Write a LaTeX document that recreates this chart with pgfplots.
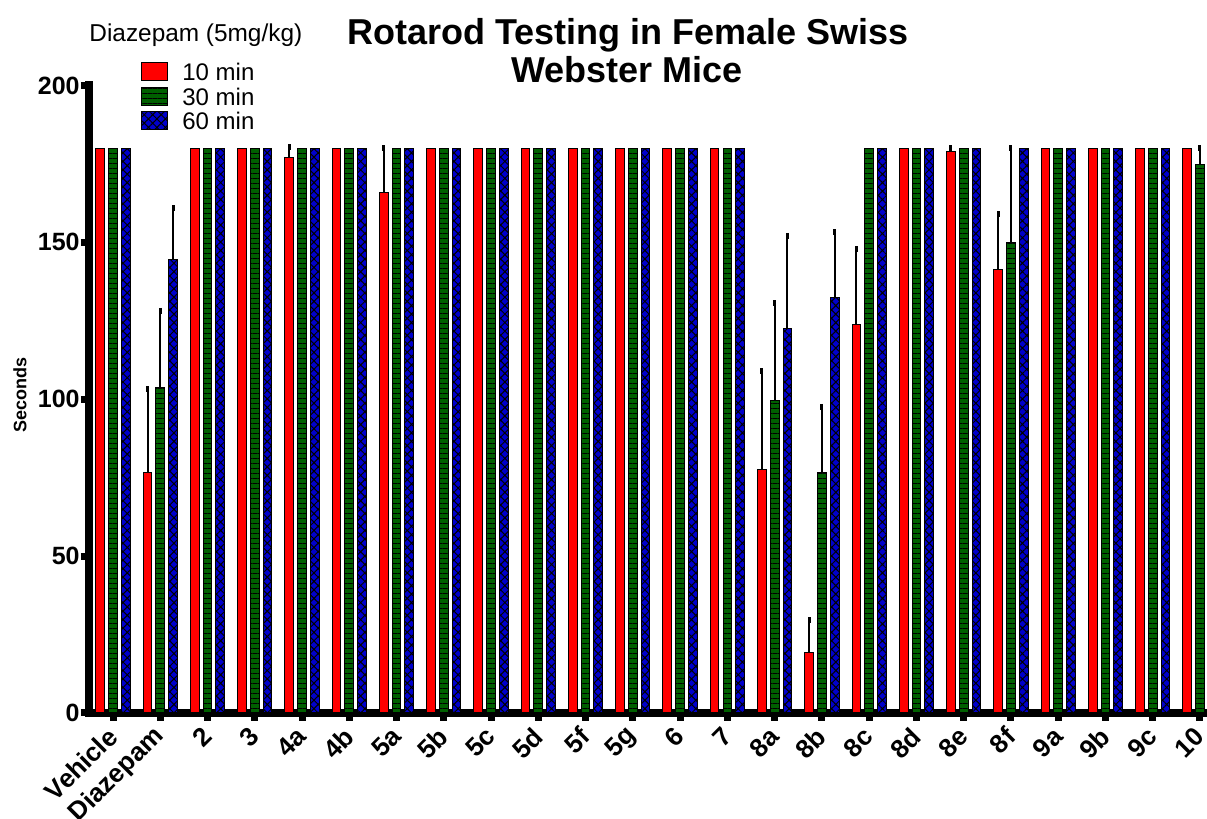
\documentclass[border=0pt]{standalone}
\usepackage{pgfplots}
\pgfplotsset{compat=1.18}
\usepackage{pgfplotstable}
\usepackage{fontspec}
\setmainfont{Liberation Sans}
\usetikzlibrary{patterns.meta}
\definecolor{bred}{RGB}{255,0,0}
\definecolor{bgreen}{RGB}{0,96,0}
\definecolor{bblue}{RGB}{0,0,204}
\pgfplotsset{layers/mylayers/.define layer set={axis background,axis grid,main,axis lines,axis ticks,axis tick labels,axis descriptions,axis foreground}{}}

\pgfplotstableread{
x r g b
0 180 180 180
1 76.5 103.6 144.4
2 180 180 180
3 180 180 180
4 176.9 180 180
5 180 180 180
6 165.8 180 180
7 180 180 180
8 180 180 180
9 180 180 180
10 180 180 180
11 180 180 180
12 180 180 180
13 180 180 180
14 77.5 99.6 122.5
15 19.4 76.6 132.3
16 123.7 180 180
17 180 180 180
18 178.9 180 180
19 141.2 149.9 180
20 180 180 180
21 180 180 180
22 180 180 180
23 180 174.9 180
}\data

\begin{document}
\begin{tikzpicture}
\begin{axis}[
  set layers=mylayers,
  at={(44.5pt,53pt)}, anchor=south west, scale only axis,
  width=559pt, height=313.75pt,
  xmin=-0.508, xmax=23.149, ymin=0, ymax=200,
  axis lines=left,
  axis line style={-, line width=4pt, black, line cap=rect},
  xtick={0,...,23},
  xticklabels={Vehicle,Diazepam,2,3,4a,4b,5a,5b,5c,5d,5f,5g,6,7,8a,8b,8c,8d,8e,8f,9a,9b,9c,10},
  ytick={0,50,...,200},
  minor x tick num=5, minor y tick num=19,
  tick align=outside,
  major tick length=4pt, minor tick length=4pt,
  major tick style={black, line width=3.5pt},
  minor tick style={gray!55, line width=0.4pt},
  minor x tick style={yshift=2pt},
  minor y tick style={xshift=2pt},
  /pgf/number format/assume math mode=true,
  yticklabel style={font=\bfseries\fontsize{12.5}{14}\selectfont, inner sep=0pt, xshift=-0.5pt},
  xticklabel style={font=\bfseries\fontsize{13}{15}\selectfont, inner sep=0pt, yshift=-5.5pt, rotate=45, anchor=east},
  ylabel={Seconds},
  ylabel style={at={(axis description cs:-0.0617,0.507)}, anchor=center, font=\bfseries\fontsize{9}{10}\selectfont},
  legend style={at={(axis description cs:0.0465,1.0375)}, anchor=north west, draw=none, fill=none, inner sep=0pt, row sep=0pt, column sep=7pt, font=\fontsize{12}{14}\selectfont, nodes={inner sep=0pt, text height=9pt, text depth=3pt}},
  legend cell align=left,
  legend image code/.code={\draw[#1] (0pt,-3pt) rectangle (13pt,6pt);},
]
\addplot[ybar, bar width=0.185, bar shift=-0.27, draw=black, line width=0.5pt, fill=bred] table[x=x,y=r] {\data};
\addlegendentry{10 min}
\addplot[ybar, bar width=0.185, bar shift=0, draw=black, line width=0.5pt, fill=bgreen, postaction={pattern={Lines[angle=0,distance=2.5pt,line width=0.5pt]}, pattern color=black}] table[x=x,y=g] {\data};
\addlegendentry{30 min}
\addplot[ybar, bar width=0.185, bar shift=0.27, draw=black, line width=0.5pt, fill=bblue, postaction={pattern={Hatch[angle=45,distance=3pt,line width=0.5pt]}, pattern color=black}] table[x=x,y=b] {\data};
\addlegendentry{60 min}
% error bars (upper only)
\addplot[draw=none, mark=none, forget plot, error bars/.cd, y dir=plus, y explicit,
  error bar style={draw=black, solid, line width=1pt},
  error mark options={draw=black, solid, line width=1.5pt, mark size=1.4pt}]
  coordinates {(0.73,76.5) +- (0,26.8) (3.73,176.9) +- (0,3.5) (5.73,165.8) +- (0,14.3)
  (13.73,77.5) +- (0,31.5) (14.73,19.4) +- (0,10.2) (15.73,123.7) +- (0,24.2)
  (17.73,178.9) +- (0,1.2) (18.73,141.2) +- (0,17.8)};
\addplot[draw=none, mark=none, forget plot, error bars/.cd, y dir=plus, y explicit,
  error bar style={draw=black, solid, line width=1pt},
  error mark options={draw=black, solid, line width=1.5pt, mark size=1.4pt}]
  coordinates {(1,103.6) +- (0,24.6) (14,99.6) +- (0,31.1) (15,76.6) +- (0,21.0)
  (19,149.9) +- (0,30.2) (23,174.9) +- (0,5.1)};
\addplot[draw=none, mark=none, forget plot, error bars/.cd, y dir=plus, y explicit,
  error bar style={draw=black, solid, line width=1pt},
  error mark options={draw=black, solid, line width=1.5pt, mark size=1.4pt}]
  coordinates {(1.27,144.4) +- (0,16.6) (14.27,122.5) +- (0,29.6) (15.27,132.3) +- (0,21.0)};
\end{axis}
\node[anchor=base west, inner sep=0pt, font=\fontsize{12.2}{14}\selectfont] at (44.5pt,388.5pt) {Diazepam (5mg/kg)};
\node[anchor=base, inner sep=0pt, font=\bfseries\fontsize{18}{20}\selectfont] at (314pt,387pt) {Rotarod Testing in Female Swiss};
\node[anchor=base, inner sep=0pt, font=\bfseries\fontsize{18}{20}\selectfont] at (313.5pt,368pt) {Webster Mice};
\pgfresetboundingbox
\path[use as bounding box] (0,0) rectangle (603.5pt,409.5pt);
\end{tikzpicture}
\end{document}
